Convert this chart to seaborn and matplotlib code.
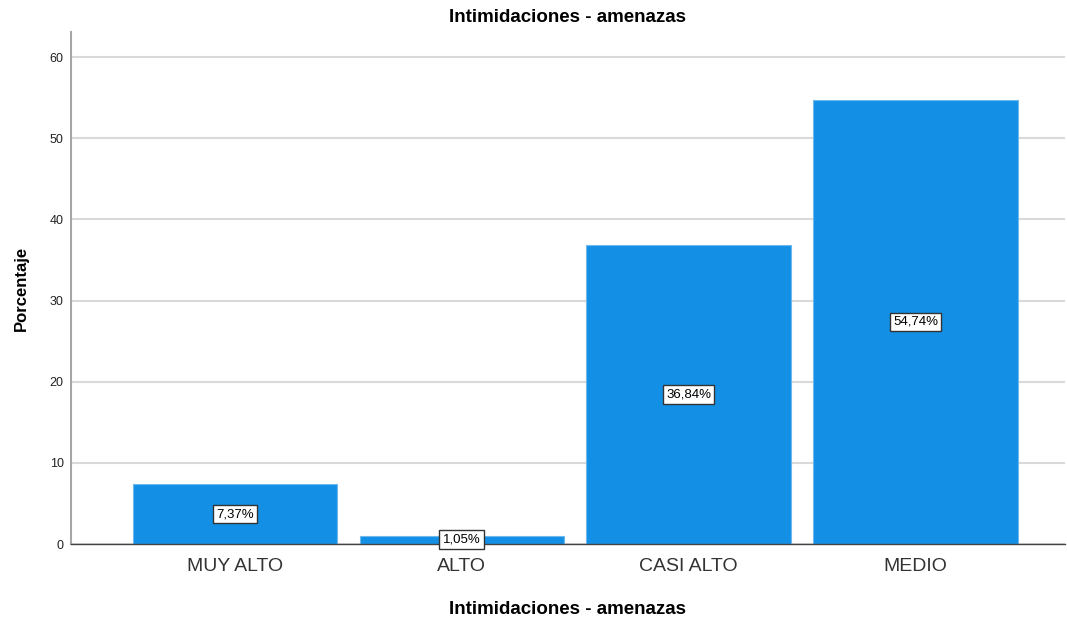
import matplotlib
matplotlib.use("Agg")
import matplotlib.pyplot as plt
import seaborn as sns
import pandas as pd

# Data
categorias = ["MUY ALTO", "ALTO", "CASI ALTO", "MEDIO"]
porcentajes = [7.37, 1.05, 36.84, 54.74]
etiquetas = ["7,37%", "1,05%", "36,84%", "54,74%"]

df = pd.DataFrame({"categoria": categorias, "porcentaje": porcentajes})

sns.set_style("white")
plt.rcParams["font.family"] = ["Liberation Sans", "DejaVu Sans"]

fig = plt.figure(figsize=(10.67, 6.18), dpi=100)
ax = fig.add_axes([0.0663, 0.1197, 0.932, 0.8285])

sns.barplot(
    data=df,
    x="categoria",
    y="porcentaje",
    color="#1390e6",
    saturation=1,
    width=0.9,
    edgecolor="#6fb8ee",
    linewidth=0.8,
    ax=ax,
)

# value labels in white boxes, centered in each bar
ax.bar_label(
    ax.containers[0],
    labels=etiquetas,
    label_type="center",
    fontsize=9.5,
    color="black",
    bbox=dict(boxstyle="square,pad=0.25", fc="white", ec="#333333", lw=1),
)

ax.set_xlim(-0.723, 3.66)
ax.set_ylim(0, 63.1)
ax.set_yticks(range(0, 61, 10))
ax.set_axisbelow(True)
ax.yaxis.grid(True, color="#d9d9d9", linewidth=1.5)
ax.xaxis.grid(False)

for side in ["top", "right"]:
    ax.spines[side].set_visible(False)
ax.spines["left"].set_color("#a6a6a6")
ax.spines["left"].set_linewidth(1.5)
ax.spines["bottom"].set_color("#444444")
ax.spines["bottom"].set_linewidth(1.0)

ax.tick_params(axis="y", length=0, pad=5, labelsize=9, labelcolor="#222222")
ax.tick_params(axis="x", length=0, pad=10, labelsize=14, labelcolor="#333333")

ax.set_title("Intimidaciones - amenazas", fontsize=13.5, fontweight="bold",
             color="black", pad=7)
ax.set_xlabel("Intimidaciones - amenazas", fontsize=13.5, fontweight="bold",
              color="black", labelpad=19)
ax.set_ylabel("Porcentaje", fontsize=12, fontweight="bold", color="black",
              labelpad=15)

fig.savefig("out.png", dpi=100)
